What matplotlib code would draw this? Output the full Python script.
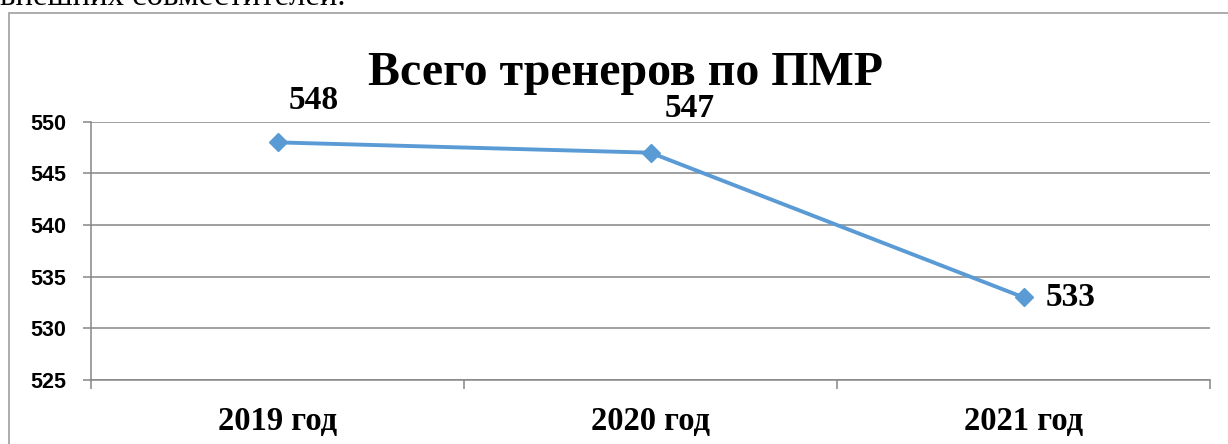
import matplotlib
matplotlib.use("Agg")
import matplotlib.pyplot as plt
from matplotlib.patches import Rectangle

# Data
years = ["2019 год", "2020 год", "2021 год"]
trainers = [548, 547, 533]
title = "Всего тренеров по ПМР"
y_ticks = [525, 530, 535, 540, 545, 550]

serif = "Liberation Serif"
grid_col = "#868686"

fig = plt.figure(figsize=(12.28, 4.44), dpi=100)
ax = fig.add_axes([91 / 1228, 1 - 380 / 444, (1210 - 91) / 1228, (380 - 121.7) / 444])

x = list(range(len(years)))
ax.plot(x, trainers, color="#5B9BD5", lw=2.8, marker="D", ms=9, zorder=3)

ax.set_xlim(-0.5, len(years) - 0.5)
ax.set_ylim(min(y_ticks), max(y_ticks))
ax.set_yticks(y_ticks)
ax.set_yticklabels([str(v) for v in y_ticks], fontfamily="Liberation Sans", fontweight="bold", fontsize=15.5)
ax.tick_params(axis="y", length=6, width=1.1, color=grid_col, pad=12)

ax.set_xticks(x)
ax.set_xticklabels(years, fontfamily=serif, fontweight="bold", fontsize=23.5)
ax.tick_params(axis="x", which="major", length=0, pad=19)
ax.set_xticks([i - 0.5 for i in range(len(years) + 1)], minor=True)
ax.tick_params(axis="x", which="minor", length=6.5, width=1.1, color=grid_col)

ax.grid(axis="y", color=grid_col, lw=1.1)
ax.set_axisbelow(True)
for s in ["top", "right"]:
    ax.spines[s].set_visible(False)
for s in ["left", "bottom"]:
    ax.spines[s].set_color(grid_col)
    ax.spines[s].set_linewidth(1.1)

# Data labels
offsets = [(26, 30), (28, 32), (34, 0)]
for xi, v, off in zip(x, trainers, offsets):
    ax.annotate(str(v), (xi, v), xytext=off, textcoords="offset points",
                ha="center", va="center", fontfamily=serif, fontweight="bold", fontsize=24)

fig.text(625 / 1228, 1 - 85 / 444, title, ha="center", va="baseline",
         fontfamily=serif, fontweight="bold", fontsize=34.5)

# Chart frame and cut-off text above it
fig.add_artist(Rectangle((9 / 1228, -0.2), 1.2, 1.2 - 13 / 444, transform=fig.transFigure,
                         fill=False, edgecolor="#A6A6A6", lw=1.3))
fig.text(0.0, 1 - 5 / 444, "внешних совместителей.", ha="left", va="baseline",
         fontfamily=serif, fontsize=23.5)

fig.savefig("out.png", dpi=100)
